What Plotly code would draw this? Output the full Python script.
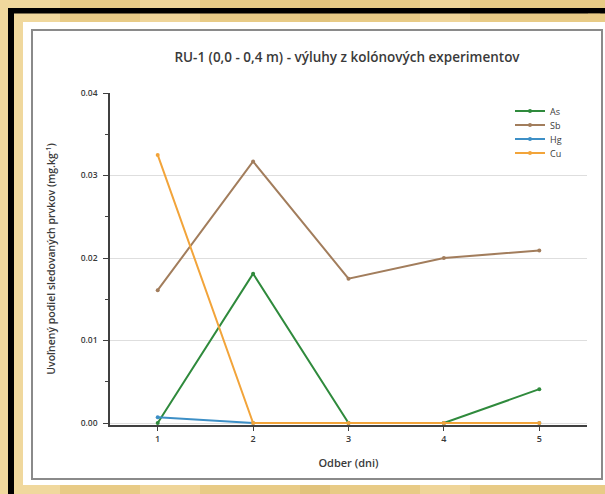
import plotly.graph_objects as go

# Sampling days and released amounts per element (mg.kg-1)
days = [1, 2, 3, 4, 5]
as_vals = [0.0, 0.0181, 0.0, 0.0, 0.0041]
sb_vals = [0.0161, 0.0317, 0.0175, 0.0200, 0.0209]
hg_vals = [0.0007, 0.0, 0.0, 0.0, 0.0]
cu_vals = [0.0325, 0.0, 0.0, 0.0, 0.0]

series_names = ["As", "Sb", "Hg", "Cu"]
series_values = [as_vals, sb_vals, hg_vals, cu_vals]
series_colors = ["#2f8a3c", "#a27d5c", "#3d8fc6", "#f2a43a"]

y_ticks = [0.0, 0.01, 0.02, 0.03, 0.04]
y_tick_text = ["0.00", "0.01", "0.02", "0.03", "0.04"]

W, H = 605, 494
L, R, T, B = 110, 18, 93, 69
PW, PH = W - L - R, H - T - B

GOLD = "#e8cb86"
BORDER = "#8a8a8a"


def px(x):
    return (x - L) / PW


def py(y):
    return (H - B - y) / PH


def rect(x0, x1, y0, y1, fill, layer="below"):
    return dict(type="rect", xref="paper", yref="paper", layer=layer,
                x0=px(x0), x1=px(x1), y0=py(y1), y1=py(y0),
                fillcolor=fill, line=dict(width=0))


legend_ids = ["legend", "legend2", "legend3", "legend4"]

fig = go.Figure()
for name, vals, col, lg in zip(series_names, series_values, series_colors, legend_ids):
    fig.add_trace(go.Scatter(
        x=days, y=vals, name=name, mode="lines+markers",
        line=dict(color=col, width=2),
        marker=dict(color=col, size=4),
        cliponaxis=False, legend=lg, showlegend=True,
    ))

text_col = "#3a3a3a"
font_family = "Open Sans"

shapes = []
# streaky gold texture of the frame
for x0, x1, c in [(0, 60, "rgba(255,240,200,0.35)"), (140, 200, "rgba(255,240,200,0.3)"),
                  (300, 330, "rgba(180,140,60,0.12)"), (420, 470, "rgba(255,240,200,0.3)")]:
    shapes.append(rect(x0, x1, 0, H, c))
# black frame (left and top edges)
shapes.append(rect(8, 14, 8, H, "#000000"))
shapes.append(rect(8, W, 8, 13.5, "#000000"))
# white card
shapes.append(rect(23, W, 22, 485, "#ffffff"))
# chart border
shapes.append(dict(type="rect", xref="paper", yref="paper", layer="below",
                   x0=px(32), x1=px(602), y0=py(479), y1=py(30),
                   fillcolor="rgba(0,0,0,0)", line=dict(color=BORDER, width=2)))
# clean right margin strip of the card, repainted on top
for y0, y1, c in [(0, 8, GOLD), (8, 13.5, "#000000"), (13.5, 22, GOLD),
                  (22, 29, "#ffffff"), (29, 31, BORDER), (31, 478, "#ffffff"),
                  (478, 480, BORDER), (480, 485, "#ffffff"), (485, H, GOLD)]:
    shapes.append(rect(588, 600.5, y0, y1, c, layer="above"))

legend_rows = [111, 125, 139, 153]
legends = {}
for lg, row in zip(legend_ids, legend_rows):
    legends[lg] = dict(
        x=px(510), y=py(row), xanchor="left", yanchor="middle",
        bgcolor="rgba(0,0,0,0)", borderwidth=0,
        font=dict(size=9, color=text_col),
        itemwidth=30, visible=True,
    )

fig.update_layout(
    width=W, height=H,
    showlegend=True,
    margin=dict(l=L, r=R, t=T, b=B, autoexpand=False),
    paper_bgcolor=GOLD,
    plot_bgcolor="#ffffff",
    shapes=shapes,
    font=dict(family=font_family, color=text_col, size=9),
    title=dict(
        text="RU-1 (0,0 - 0,4 m) - výluhy z kolónových experimentov",
        x=px(347), xref="paper", xanchor="center",
        y=1 - 57 / H, yref="container", yanchor="middle",
        font=dict(family=font_family, size=13.5, color=text_col, weight=600),
    ),
    xaxis=dict(
        range=[0.5, 5.5], tickvals=days, ticktext=[str(d) for d in days],
        showgrid=False, zeroline=False,
        showline=True, linecolor="#404040", linewidth=1.5,
        ticks="outside", ticklen=4, tickcolor="#404040", tickwidth=1,
        tickfont=dict(size=9, color=text_col, weight=600),
        title=dict(text="Odber (dni)", standoff=16,
                   font=dict(size=11, color=text_col, weight=600)),
        automargin=False,
    ),
    yaxis=dict(
        range=[-2 / 8250, 0.04], tickvals=y_ticks, ticktext=y_tick_text,
        showgrid=True, gridcolor="#dedede", gridwidth=1, zeroline=False,
        showline=True, linecolor="#404040", linewidth=1.5,
        ticks="outside", ticklen=5, tickcolor="#404040", tickwidth=1,
        ticklabelstandoff=4,
        minor=dict(dtick=0.005, tick0=0, ticks="outside", ticklen=3,
                   tickcolor="#404040", showgrid=False),
        tickfont=dict(size=8.5, color=text_col, weight=600),
        title=dict(text="Uvoľnený podiel sledovaných prvkov (mg.kg<sup>-1</sup>)",
                   standoff=23, font=dict(size=10.5, color=text_col, weight=600)),
        automargin=False,
    ),
    **legends,
)

fig.write_html("out.html")
